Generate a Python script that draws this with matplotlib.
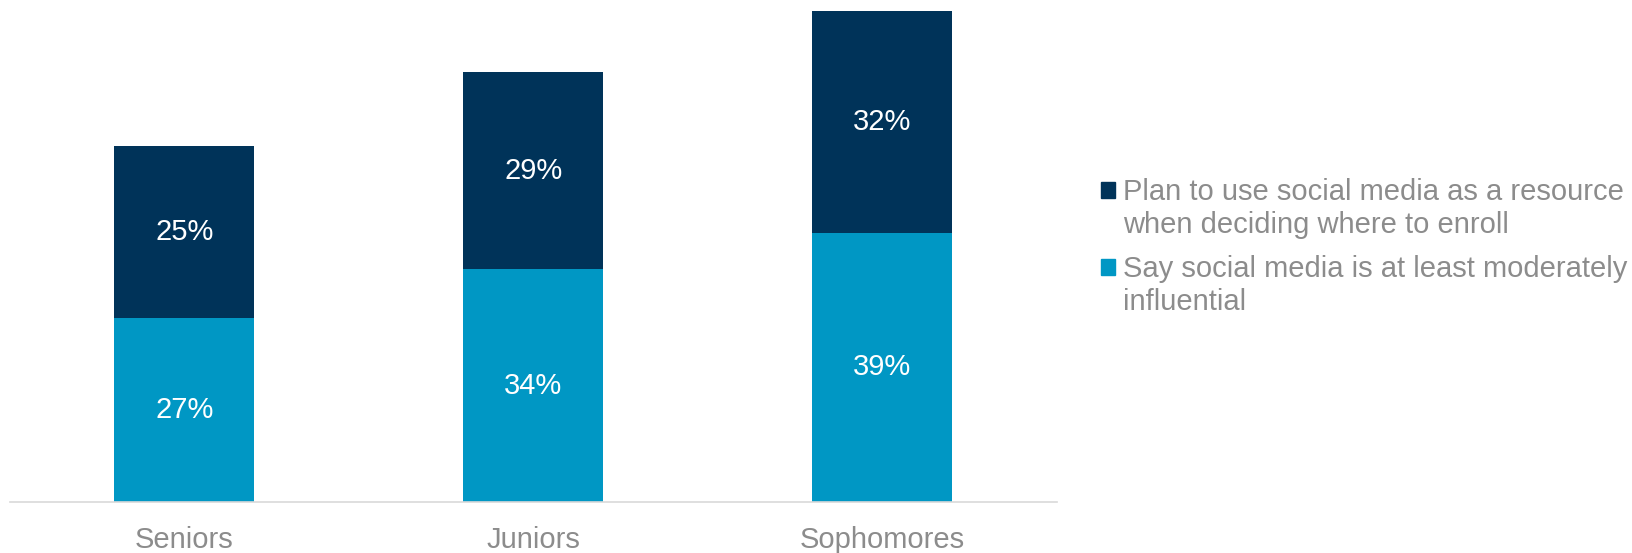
import numpy as np
import matplotlib.pyplot as plt
from matplotlib.patches import Patch, Rectangle
from matplotlib.legend_handler import HandlerPatch

plt.rcParams['font.family'] = ['Liberation Sans', 'DejaVu Sans']

classes = ['Seniors', 'Juniors', 'Sophomores']
# heights; labels show the rounded figures
influential = [26.9, 34.0, 39.4]
plan_to_use = [25.1, 28.8, 32.4]
labels = ['Plan to use social media as a resource\nwhen deciding where to enroll',
          'Say social media is at least moderately\ninfluential']

dark = '#003359'
teal = '#0097C4'
grey = '#8C8C8C'

fig = plt.figure(figsize=(16.33, 5.53), dpi=100)
ax = fig.add_axes([0.006, 0.0922, 0.641, 0.9078])

x = np.arange(len(classes))
b1 = ax.bar(x, influential, width=0.4, color=teal)
b2 = ax.bar(x, plan_to_use, width=0.4, bottom=influential, color=dark)

for bars in (b1, b2):
    ax.bar_label(bars, labels=[f'{v:.0f}%' for v in bars.datavalues],
                 label_type='center', color='white', fontsize=21)

ax.set_xlim(-0.5, 2.5)
ax.set_ylim(0, 73.4)
ax.set_xticks(x)
ax.set_xticklabels(classes, fontsize=21, color=grey)
ax.tick_params(axis='x', length=0, pad=17)
ax.set_yticks([])
for s in ['top', 'right', 'left']:
    ax.spines[s].set_visible(False)
ax.spines['bottom'].set_color('#D9D9D9')
ax.spines['bottom'].set_linewidth(1.2)


# put the square next to the first line of each two-line entry
def top_square(legend, orig_handle, xdescent, ydescent, width, height, fontsize):
    return Rectangle((-xdescent, -ydescent + 14), width, height)


handles = [Patch(color=dark), Patch(color=teal)]
leg = fig.legend(handles, labels, loc='upper left', bbox_to_anchor=(0.658, 0.725),
                 frameon=False, fontsize=21, labelcolor=grey,
                 handlelength=0.5, handleheight=0.5, handletextpad=0.25,
                 labelspacing=0.55,
                 handler_map={Patch: HandlerPatch(patch_func=top_square)})
for t in leg.get_texts():
    t.set_linespacing(1.22)

fig.savefig('out.png', dpi=100)
